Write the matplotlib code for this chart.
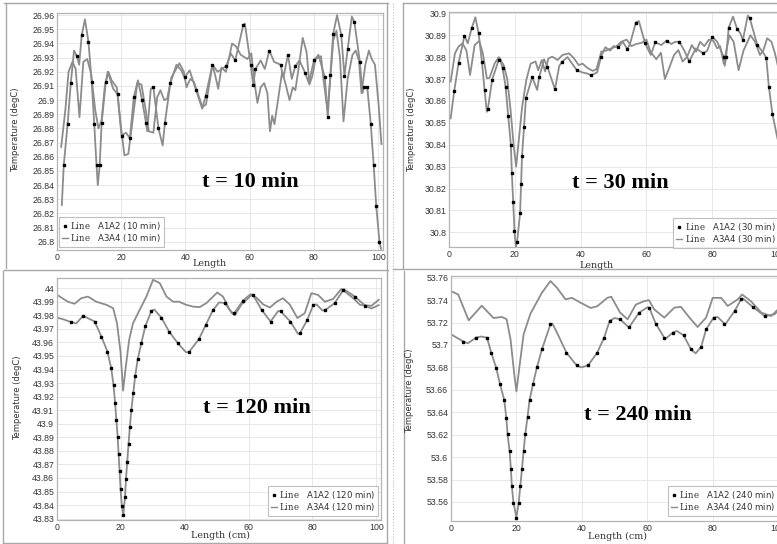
import numpy as np
import matplotlib
matplotlib.use("Agg")
import matplotlib.pyplot as plt
from matplotlib.lines import Line2D

plt.rcParams['font.family'] = ['DejaVu Sans']
plt.rcParams['mathtext.fontset'] = 'dejavuserif'

W, H = 777, 544

# ---------------- t = 10 min ----------------
a1a2_10_mx = [2.1, 3.3, 4.3, 6.2, 7.7, 9.8, 10.8, 11.6, 12.3, 13.3, 13.9, 15.2, 18.9, 20.1,
              22.7, 23.9, 26.5, 27.7, 30.0, 31.6, 33.6, 35.3, 39.7, 43.3, 46.3, 48.4, 52.7,
              55.5, 58.0, 60.3, 61.1, 61.8, 66.1, 69.6, 71.9, 74.2, 77.3, 80.0, 83.4, 84.3,
              85.1, 86.0, 88.5, 89.5, 90.5, 92.6, 94.3, 95.6, 96.6, 97.7, 98.6, 99.4, 100.4]
a1a2_10_my = [26.854, 26.883, 26.912, 26.931, 26.946, 26.941, 26.913, 26.883, 26.854, 26.854,
              26.884, 26.913, 26.904, 26.875, 26.873, 26.902, 26.900, 26.884, 26.909, 26.880,
              26.884, 26.912, 26.916, 26.907, 26.903, 26.925, 26.924, 26.928, 26.953, 26.925,
              26.911, 26.922, 26.935, 26.925, 26.932, 26.924, 26.919, 26.928, 26.916, 26.888,
              26.918, 26.947, 26.946, 26.917, 26.936, 26.955, 26.927, 26.909, 26.909, 26.883,
              26.854, 26.825, 26.800]
a1a2_10_lx = [1.5, 5.3, 6.9, 8.7, 12.7, 15.8, 17.5, 21.5, 25.2, 28.1, 29.2, 32.9, 37.2, 38.7,
              41.3, 45.2, 50.0, 54.1, 58.5, 63.4, 64.7, 67.6, 70.5, 73.1, 75.5, 78.4, 81.4,
              87.2, 91.8, 95.1, 100.9]
a1a2_10_ly = [26.826, 26.935, 26.925, 26.957, 26.840, 26.920, 26.908, 26.877, 26.914, 26.878,
              26.908, 26.868, 26.925, 26.921, 26.921, 26.894, 26.920, 26.933, 26.954, 26.928,
              26.922, 26.927, 26.916, 26.915, 26.928, 26.912, 26.932, 26.960, 26.959, 26.905,
              26.795]
a3a4_10_x = [1.3, 2.6, 3.6, 4.8, 5.8, 7.0, 8.2, 9.4, 10.6, 11.9, 12.9, 13.9, 14.9, 16.0, 17.0,
             18.6, 19.7, 21.0, 22.2, 23.5, 25.0, 26.3, 27.7, 28.6, 30.0, 31.2, 32.2, 33.4, 34.3,
             35.6, 37.1, 38.1, 39.5, 40.3, 41.5, 42.6, 43.8, 45.3, 46.4, 48.4, 49.2, 50.2, 51.2,
             52.6, 53.6, 54.5, 55.7, 57.2, 59.3, 60.5, 61.4, 62.4, 63.4, 64.5, 65.5, 66.3, 67.0,
             67.7, 68.8, 70.1, 71.1, 72.4, 73.4, 74.2, 75.2, 76.5, 77.7, 78.6, 79.5, 80.5, 82.2,
             83.0, 84.2, 85.1, 86.0, 87.0, 88.1, 89.2, 90.5, 92.0, 93.0, 94.0, 94.8, 96.0, 97.1,
             98.0, 99.0, 100.2, 101.0]
a3a4_10_y = [26.867, 26.893, 26.920, 26.927, 26.922, 26.888, 26.927, 26.929, 26.919, 26.893,
             26.880, 26.886, 26.910, 26.920, 26.914, 26.909, 26.885, 26.861, 26.862, 26.885,
             26.912, 26.911, 26.892, 26.878, 26.877, 26.902, 26.907, 26.900, 26.901, 26.916,
             26.922, 26.926, 26.920, 26.909, 26.915, 26.913, 26.905, 26.895, 26.897, 26.925,
             26.918, 26.908, 26.923, 26.920, 26.930, 26.940, 26.938, 26.932, 26.929, 26.933,
             26.914, 26.898, 26.909, 26.912, 26.905, 26.878, 26.889, 26.883, 26.900, 26.920,
             26.912, 26.900, 26.909, 26.907, 26.922, 26.944, 26.934, 26.911, 26.917, 26.929,
             26.931, 26.914, 26.893, 26.915, 26.942, 26.949, 26.930, 26.885, 26.915, 26.932,
             26.935, 26.928, 26.905, 26.925, 26.935, 26.929, 26.925, 26.895, 26.869]

# ---------------- t = 30 min ----------------
a1a2_30_mx = [1.6, 2.9, 4.7, 6.9, 9.0, 10.0, 10.8, 11.8, 13.1, 15.1, 16.3, 17.2, 18.0, 18.8,
              19.1, 19.5, 19.9, 20.7, 21.6, 21.9, 22.2, 22.8, 23.4, 25.3, 27.4, 29.9, 32.2,
              34.4, 38.8, 43.2, 46.2, 51.5, 54.2, 56.8, 59.6, 62.7, 66.1, 70.0, 73.0, 77.3,
              80.0, 83.5, 84.2, 85.0, 87.6, 89.3, 91.4, 93.7, 96.4, 97.2, 98.3]
a1a2_30_my = [30.8647, 30.8772, 30.8898, 30.8932, 30.8909, 30.8779, 30.8650, 30.8562, 30.8696,
              30.8787, 30.8749, 30.8665, 30.8530, 30.8400, 30.8270, 30.8140, 30.8008, 30.7957,
              30.8087, 30.8219, 30.8350, 30.8482, 30.8615, 30.8708, 30.8708, 30.8756, 30.8653,
              30.8779, 30.8741, 30.8717, 30.8802, 30.8845, 30.8837, 30.8958, 30.8863, 30.8868,
              30.8875, 30.8870, 30.8780, 30.8817, 30.8893, 30.8800, 30.8800, 30.8935, 30.8927,
              30.8878, 30.8977, 30.8855, 30.8798, 30.8665, 30.8539]
a1a2_30_lx = [0.5, 5.7, 8.0, 11.5, 15.5, 20.3, 26.8, 28.9, 33.5, 36.0, 40.5, 42.0, 45.0, 47.5,
              49.0, 50.0, 52.8, 55.0, 57.7, 61.3, 64.5, 67.5, 68.8, 71.5, 75.0, 78.5, 81.5,
              83.8, 86.3, 88.5, 90.8, 95.5, 99.8, 101.5]
a1a2_30_ly = [30.8520, 30.8863, 30.8982, 30.8550, 30.8795, 30.7933, 30.8650, 30.8790, 30.8760,
              30.8800, 30.8730, 30.8725, 30.8730, 30.8845, 30.8830, 30.8850, 30.8870, 30.8860,
              30.8965, 30.8810, 30.8855, 30.8860, 30.8870, 30.8830, 30.8840, 30.8830, 30.8870,
              30.8760, 30.8985, 30.8910, 30.8990, 30.8820, 30.8430, 30.8340]
a3a4_30_x = [0.5, 1.8, 2.9, 4.1, 5.3, 6.4, 7.8, 9.2, 10.3, 11.5, 12.3, 13.9, 15.1, 16.6, 17.7,
             18.7, 19.7, 20.4, 21.2, 22.2, 23.5, 24.8, 26.3, 27.1, 28.2, 29.2, 30.2, 31.4, 33.0,
             34.5, 36.5, 38.0, 39.4, 40.6, 42.1, 43.7, 44.8, 46.3, 47.8, 49.3, 50.8, 52.3, 54.0,
             55.4, 56.9, 58.5, 60.0, 61.2, 63.0, 64.4, 65.6, 66.9, 68.4, 69.7, 71.0, 72.3, 73.8,
             75.1, 76.3, 77.6, 79.0, 80.3, 81.5, 82.4, 83.5, 85.2, 86.5, 88.0, 89.5, 91.6, 93.0,
             94.5, 95.5, 96.7, 98.0, 99.0, 101.5]
a3a4_30_y = [30.8688, 30.8817, 30.8848, 30.8863, 30.8830, 30.8718, 30.8855, 30.8874, 30.8817,
             30.8703, 30.8705, 30.8772, 30.8800, 30.8764, 30.8700, 30.8560, 30.8390, 30.8300,
             30.8420, 30.8570, 30.8696, 30.8770, 30.8780, 30.8740, 30.8787, 30.8734, 30.8794,
             30.8802, 30.8787, 30.8810, 30.8817, 30.8794, 30.8764, 30.8770, 30.8750, 30.8737,
             30.8745, 30.8825, 30.8830, 30.8840, 30.8848, 30.8870, 30.8880, 30.8850, 30.8860,
             30.8865, 30.8880, 30.8825, 30.8790, 30.8820, 30.8700, 30.8750, 30.8810, 30.8832,
             30.8780, 30.8800, 30.8855, 30.8825, 30.8870, 30.8850, 30.8880, 30.8875, 30.8840,
             30.8850, 30.8770, 30.8900, 30.8870, 30.8740, 30.8830, 30.8900, 30.8870, 30.8810,
             30.8830, 30.8886, 30.8870, 30.8820, 30.8660]

# ---------------- t = 120 min ----------------
a1a2_120_mx = [4.5, 8.2, 11.8, 13.9, 15.8, 17.0, 17.7, 18.2, 18.6, 19.0, 19.3, 19.6, 19.9,
               20.3, 20.8, 21.3, 21.6, 22.0, 22.4, 22.8, 23.3, 23.9, 24.5, 25.3, 26.4, 27.7,
               29.6, 32.7, 35.1, 37.9, 41.4, 44.5, 46.6, 48.9, 52.6, 55.5, 58.3, 61.4, 64.1,
               66.9, 70.1, 73.1, 76.1, 78.4, 80.3, 84.1, 87.0, 89.7, 93.3, 96.6]
a1a2_120_my = [43.9749, 43.9796, 43.9754, 43.9643, 43.9532, 43.9409, 43.9286, 43.9155, 43.9027,
               43.8904, 43.8776, 43.8652, 43.8522, 43.8394, 43.8330, 43.8460, 43.8590, 43.8720,
               43.8847, 43.8973, 43.9100, 43.9229, 43.9354, 43.9478, 43.9593, 43.9722, 43.9832,
               43.9783, 43.9680, 43.9593, 43.9530, 43.9626, 43.9729, 43.9840, 43.9890, 43.9815,
               43.9909, 43.9951, 43.9840, 43.9754, 43.9828, 43.9754, 43.9667, 43.9766, 43.9877,
               43.9840, 43.9890, 43.9988, 43.9938, 43.9870]
a1a2_120_lx = [0.0, 2.0, 6.0, 30.5, 40.4, 50.8, 54.9, 60.6, 69.3, 75.5, 81.3, 83.2, 89.9, 98.5,
               100.8]
a1a2_120_ly = [43.9783, 43.9770, 43.9740, 43.9842, 43.9527, 43.9895, 43.9812, 43.9955, 43.9832,
               43.9663, 43.9880, 43.9835, 43.9992, 43.9850, 43.9875]
a3a4_120_x = [0.0, 3.4, 5.5, 7.6, 9.7, 12.3, 15.5, 17.6, 18.8, 19.9, 20.7, 21.5, 22.6, 23.8, 25.9,
              28.0, 30.1, 32.2, 34.3, 36.4, 38.2, 40.5, 42.6, 44.7, 46.8, 48.9, 50.2, 52.0, 54.1,
              55.7, 57.8, 61.0, 62.5, 64.6, 66.7, 68.8, 70.8, 72.9, 75.3, 77.6, 79.7, 81.8, 83.9,
              86.5, 89.1, 92.8, 94.9, 98.5, 100.8]
a3a4_120_y = [43.9951, 43.9900, 43.9885, 43.9926, 43.9938, 43.9900, 43.9877, 43.9852, 43.9740,
              43.9530, 43.9244, 43.9410, 43.9618, 43.9740, 43.9840, 43.9938, 44.0062, 44.0037,
              43.9938, 43.9900, 43.9900, 43.9877, 43.9864, 43.9860, 43.9890, 43.9938, 43.9968,
              43.9938, 43.9840, 43.9800, 43.9880, 43.9950, 43.9930, 43.9880, 43.9857, 43.9900,
              43.9926, 43.9880, 43.9780, 43.9815, 43.9963, 43.9950, 43.9900, 43.9920, 43.9995,
              43.9926, 43.9877, 43.9870, 43.9914]

# ---------------- t = 240 min ----------------
a1a2_240_mx = [3.8, 7.6, 11.0, 12.3, 13.8, 15.0, 16.3, 16.9, 17.3, 17.9, 18.3, 18.6, 19.1, 20.0,
               20.7, 21.2, 21.7, 22.2, 22.7, 23.4, 24.0, 25.1, 26.3, 27.8, 30.4, 35.3, 38.4,
               41.9, 44.7, 46.8, 48.5, 51.7, 54.5, 57.5, 60.6, 62.6, 65.2, 67.8, 71.1, 73.4,
               76.5, 78.0, 80.3, 83.6, 86.7, 88.7, 92.3, 95.9]
a1a2_240_my = [53.7030, 53.7065, 53.7065, 53.6931, 53.6798, 53.6649, 53.6506, 53.6352, 53.6203,
               53.6055, 53.5897, 53.5743, 53.5594, 53.5460, 53.5594, 53.5743, 53.5897, 53.6055,
               53.6203, 53.6358, 53.6506, 53.6655, 53.6804, 53.6961, 53.7184, 53.6931, 53.6818,
               53.6818, 53.6931, 53.7065, 53.7214, 53.7229, 53.7160, 53.7288, 53.7333, 53.7190,
               53.7065, 53.7110, 53.7086, 53.6960, 53.6985, 53.7140, 53.7244, 53.7190, 53.7303,
               53.7407, 53.7338, 53.7258]
a1a2_240_lx = [0.0, 5.2, 9.2, 31.0, 32.4, 39.8, 50.0, 54.3, 60.0, 65.8, 69.0, 74.8, 81.5, 84.0,
               89.2, 97.5, 99.0, 101.5]
a1a2_240_ly = [53.7095, 53.7015, 53.7075, 53.7190, 53.7110, 53.6800, 53.7240, 53.7158, 53.7335,
               53.7060, 53.7125, 53.6925, 53.7250, 53.7190, 53.7415, 53.7265, 53.7275, 53.7360]
a3a4_240_x = [0.0, 2.2, 5.4, 9.4, 13.0, 15.5, 17.0, 18.2, 19.3, 20.0, 20.9, 22.2, 24.3, 27.8,
              30.4, 32.4, 35.0, 37.0, 39.6, 42.7, 44.7, 47.8, 49.0, 51.7, 54.0, 56.5, 59.0, 60.5,
              62.1, 65.2, 68.3, 70.3, 72.9, 75.4, 78.0, 80.0, 82.6, 84.6, 87.7, 89.0, 91.7, 94.9,
              97.9, 101.5]
a3a4_240_y = [53.7480, 53.7450, 53.7220, 53.7350, 53.7240, 53.7250, 53.7230, 53.7050, 53.6750,
              53.6585, 53.6800, 53.7095, 53.7280, 53.7466, 53.7570, 53.7510, 53.7407, 53.7420,
              53.7377, 53.7330, 53.7345, 53.7420, 53.7430, 53.7288, 53.7229, 53.7360, 53.7390,
              53.7400, 53.7318, 53.7244, 53.7333, 53.7340, 53.7244, 53.7160, 53.7244, 53.7420,
              53.7420, 53.7348, 53.7407, 53.7450, 53.7390, 53.7288, 53.7258, 53.7360]

LINE_GREY = '#8c8c8c'
FRAME_GREY = '#a8a8a8'

fig = plt.figure(figsize=(W / 100, H / 100), dpi=100)
fig.patch.set_facecolor('white')


def axes_px(l, t, r, b):
    return fig.add_axes([l / W, 1 - b / H, (r - l) / W, (b - t) / H])


def fig_line(x0, y0, x1, y1, ls='-', color=FRAME_GREY, lw=1.0):
    fig.add_artist(Line2D([x0 / W, x1 / W], [1 - y0 / H, 1 - y1 / H],
                          transform=fig.transFigure, color=color, lw=lw, ls=ls))


def fmt(v):
    s = f"{v:.2f}".rstrip('0').rstrip('.')
    return s


def panel(box, ylim, ystep, mx, my, lx, ly, bx, by, minutes, xlabel, xlab_px,
          ylab_px, tag_px, leg_loc, leg_px):
    ax = axes_px(*box)
    ax.set_xlim(0, 101.5)
    ax.set_ylim(*ylim)
    # solid line through markers and shape points, sorted along the length
    px = np.array(list(mx) + list(lx))
    py = np.array(list(my) + list(ly))
    order = np.argsort(px)
    ax.plot(bx, by, color=LINE_GREY, lw=1.3, zorder=2)
    ax.plot(px[order], py[order], color=LINE_GREY, lw=1.3, zorder=2)
    ax.plot(mx, my, ls='none', marker='s', ms=2.0, color='black', zorder=3)

    lo = np.ceil(ylim[0] / ystep - 1e-6) * ystep
    yt = np.arange(lo, ylim[1] + 1e-9, ystep)
    ax.set_yticks(yt)
    ax.set_yticklabels([fmt(v) for v in yt])
    ax.set_xticks([0, 20, 40, 60, 80, 100])
    ax.grid(True, color='#e4e4e4', lw=0.6)
    ax.set_axisbelow(True)
    for s in ax.spines.values():
        s.set_color('#b4b4b4')
        s.set_linewidth(0.9)
    ax.tick_params(length=0, pad=2, labelsize=6, labelcolor='#333333')
    for lab in ax.get_xticklabels() + ax.get_yticklabels():
        lab.set_fontfamily('Liberation Sans')
        lab.set_fontsize(6.3)

    fig.text(xlab_px[0] / W, 1 - xlab_px[1] / H, xlabel, family='DejaVu Serif',
             fontsize=6.8, color='#333333', ha='center', va='center')
    fig.text(ylab_px[0] / W, 1 - ylab_px[1] / H, 'Temperature (degC)', fontsize=6,
             color='#333333', rotation=90, ha='center', va='center')
    fig.text(tag_px[0] / W, 1 - tag_px[1] / H, f't = {minutes} min',
             family='Liberation Serif', fontweight='bold', fontsize=16,
             ha='center', va='center', color='black')

    h1 = Line2D([], [], color=LINE_GREY, lw=0, marker='s', ms=2.0,
                mfc='black', mec='black')
    h2 = Line2D([], [], color=LINE_GREY, lw=1.0)
    leg = ax.legend([h1, h2],
                    [r'$\mathrm{Line}$   A1A2 (' + f'{minutes} min)',
                     r'$\mathrm{Line}$   A3A4 (' + f'{minutes} min)'],
                    loc=leg_loc, bbox_to_anchor=(leg_px[0] / W, 1 - leg_px[1] / H),
                    bbox_transform=fig.transFigure, fontsize=6.2, frameon=True,
                    fancybox=False, handlelength=0.7, handletextpad=0.3,
                    borderpad=0.3, labelspacing=0.1, borderaxespad=0)
    leg.get_frame().set_edgecolor('#b0b0b0')
    leg.get_frame().set_linewidth(0.8)
    for t in leg.get_texts():
        t.set_color('#333333')
    return ax


panel((57, 13, 383, 250), (26.7942, 26.9615), 0.01,
      a1a2_10_mx, a1a2_10_my, a1a2_10_lx, a1a2_10_ly, a3a4_10_x, a3a4_10_y,
      10, 'Length', (210, 263), (16, 130), (250, 182), 'lower left', (59, 247))

panel((449, 12, 783, 247), (30.7933, 30.9006), 0.01,
      a1a2_30_mx, a1a2_30_my, a1a2_30_lx, a1a2_30_ly, a3a4_30_x, a3a4_30_y,
      30, 'Length', (597, 266), (412, 130), (620, 183), 'lower right', (778, 248))

panel((57, 278, 381, 520), (43.829, 44.0075), 0.01,
      a1a2_120_mx, a1a2_120_my, a1a2_120_lx, a1a2_120_ly, a3a4_120_x, a3a4_120_y,
      120, 'Length (cm)', (220, 535), (18, 398), (257, 408), 'lower right', (378, 516))

panel((451, 276, 783, 521), (53.543, 53.7615), 0.02,
      a1a2_240_mx, a1a2_240_my, a1a2_240_lx, a1a2_240_ly, a3a4_240_x, a3a4_240_y,
      240, 'Length (cm)', (617, 536), (410, 391), (638, 415), 'lower right', (778, 516))

# window frames around the four plots
fig_line(4, 3, 388, 3)
fig_line(6, 3, 6, 268)
fig_line(387, 3, 387, 270)
fig_line(4, 270, 388, 270)
fig_line(3, 271, 3, 543)
fig_line(3, 543, 387, 543)
fig_line(387, 271, 387, 543)
fig_line(393, 3, 393, 544, ls=':', color='#bbbbbb', lw=0.8)
fig_line(403, 3, 403, 268)
fig_line(403, 3, 777, 3)
fig_line(393, 269, 777, 269)
fig_line(404, 271, 404, 544)

fig.savefig('out.png', dpi=100, facecolor='white')
